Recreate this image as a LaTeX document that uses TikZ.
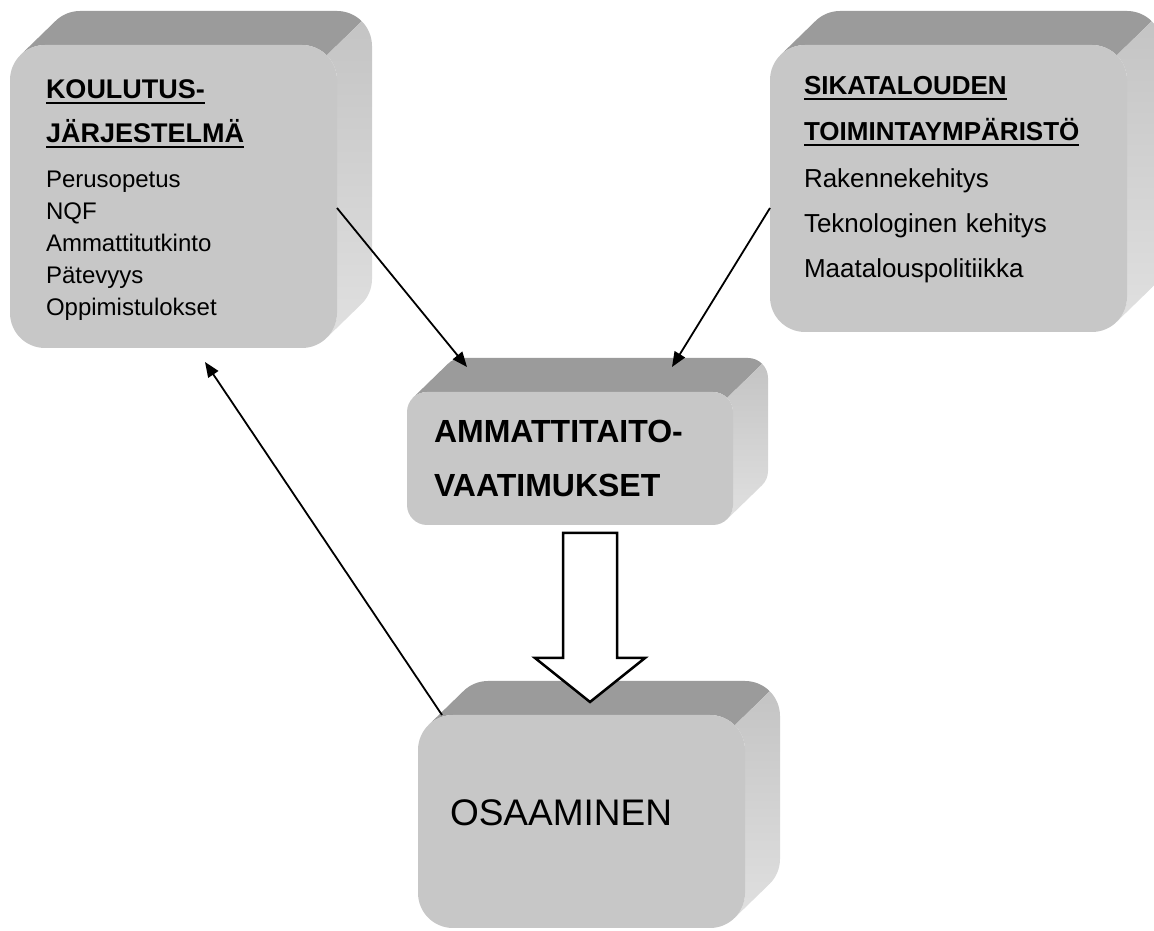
\documentclass[tikz,border=0pt]{standalone}
\usepackage{fontspec}
\setmainfont{Liberation Sans}
\usepackage{tikz}
\usetikzlibrary{shapes, arrows.meta, positioning, calc, backgrounds}
\definecolor{frontColor}{HTML}{C7C7C7}
\definecolor{topColor}{HTML}{9B9B9B}
\definecolor{sideColor}{HTML}{E0E0E0}
\definecolor{rimColor}{HTML}{C4C4C4}
% underlined heading
\newcommand{\ulhead}[1]{\mbox{\setbox0=\hbox{#1}\copy0\kern-\wd0\rule[-6pt]{\wd0}{2pt}}}
\tikzstyle{box} = [rectangle, rounded corners=35pt,
minimum width=327pt,
outer sep=0pt,
align=left,
fill=frontColor]
\tikzstyle{topface} = [fill=topColor]
\tikzstyle{sideface} = [top color=rimColor, bottom color=sideColor]
\tikzstyle{arrow} = [line width=1.8pt, -{Triangle[length=15pt,width=12pt]}]
\tikzstyle{hollow} = [line width=2.5pt, line join=miter, draw=black, fill=white]
% top and right face of a box, #1 node, #2 corner radius
\newcommand{\extrude}[2]{%
  \path[topface] ($(#1.north west)+({0.293*#2},{-0.293*#2})$) -- ++(35,34)
    arc[start angle=135, end angle=90, radius=#2]
    -- ($(#1.north east)+({35-#2},34)$)
    arc[start angle=90, end angle=45, radius=#2]
    -- ($(#1.north east)+({-0.293*#2},{-0.293*#2})$)
    arc[start angle=45, end angle=90, radius=#2]
    -- ($(#1.north west)+(#2,0)$)
    arc[start angle=90, end angle=135, radius=#2] -- cycle;
  \path[sideface] ($(#1.north east)+({-0.293*#2},{-0.293*#2})$) -- ++(35,34)
    arc[start angle=45, end angle=0, radius=#2]
    -- ($(#1.south east)+(35,{34+#2})$)
    arc[start angle=0, end angle=-45, radius=#2]
    -- ($(#1.south east)+({-0.293*#2},{0.293*#2})$)
    arc[start angle=-45, end angle=0, radius=#2]
    -- ($(#1.north east)+(0,-#2)$)
    arc[start angle=0, end angle=45, radius=#2] -- cycle;
}

\begin{document}
\begin{tikzpicture}[x=1pt,y=1pt]
    \useasboundingbox (0,0) rectangle (1154,931);
    % Nodes
    \node[box, minimum height=303pt, text width=255pt, inner xsep=36pt,
      font=\fontsize{24}{32}\selectfont] (koulutus) at (173.5,734.5)
      {{\fontsize{27}{32}\selectfont\bfseries\rule{0pt}{26pt}\ulhead{KOULUTUS-}}\\[12pt]
       {\fontsize{27}{32}\selectfont\bfseries\ulhead{JÄRJESTELMÄ}}\\[13pt]
       Perusopetus\\ NQF\\ Ammattitutkinto\\ Pätevyys\\ Oppimistulokset};
    \node[box, minimum width=357pt, minimum height=287pt, text width=289pt, inner xsep=34pt,
      font=\fontsize{26}{45}\selectfont] (sikatalous) at (948.5,742.5)
      {{\bfseries\ulhead{SIKATALOUDEN}}\\[1pt]
       {\bfseries\ulhead{TOIMINTAYMPÄRISTÖ}}\\[2pt]
       Rakennekehitys\\ Teknologinen kehitys\\ Maatalouspolitiikka\rule[-24pt]{0pt}{1pt}};
    \node[box, rounded corners=20pt, minimum width=326pt, minimum height=133pt, text width=272pt,
      inner xsep=27pt, font=\fontsize{32}{54}\selectfont\bfseries] (ammatti) at (570,472.5)
      {AMMATTITAITO-\\ VAATIMUKSET};
    \node[box, minimum height=213pt, text width=263pt, inner xsep=32pt,
      font=\fontsize{37}{40}\selectfont] (osaaminen) at (581.5,109.5)
      {OSAAMINEN\rule[-17pt]{0pt}{1pt}};

    \begin{scope}[on background layer]
      \extrude{koulutus}{35}
      \extrude{sikatalous}{35}
      \extrude{ammatti}{20}
      \extrude{osaaminen}{35}
    \end{scope}

    % Arrows
    \draw[arrow] ($(koulutus.east)+(0,-11.5)$) -- ($(ammatti.north)+(-103,25)$);
    \draw[arrow] ($(sikatalous.west)+(0,-19.5)$) -- ($(ammatti.north)+(102,25)$);
    \draw[arrow] ($(osaaminen.north west)+(24,0)$) -- ($(koulutus.south)+(31.5,-14)$);
    \coordinate (tail) at ($(ammatti.south)+(20,-8)$);
    \draw[hollow] ($(tail)+(-27,0)$) -- ($(tail)+(27,0)$) -- ($(tail)+(27,-125)$)
      -- ($(tail)+(55,-125)$) -- ($(tail)+(0,-169)$) -- ($(tail)+(-55,-125)$)
      -- ($(tail)+(-27,-125)$) -- cycle;
\end{tikzpicture}
\end{document}
